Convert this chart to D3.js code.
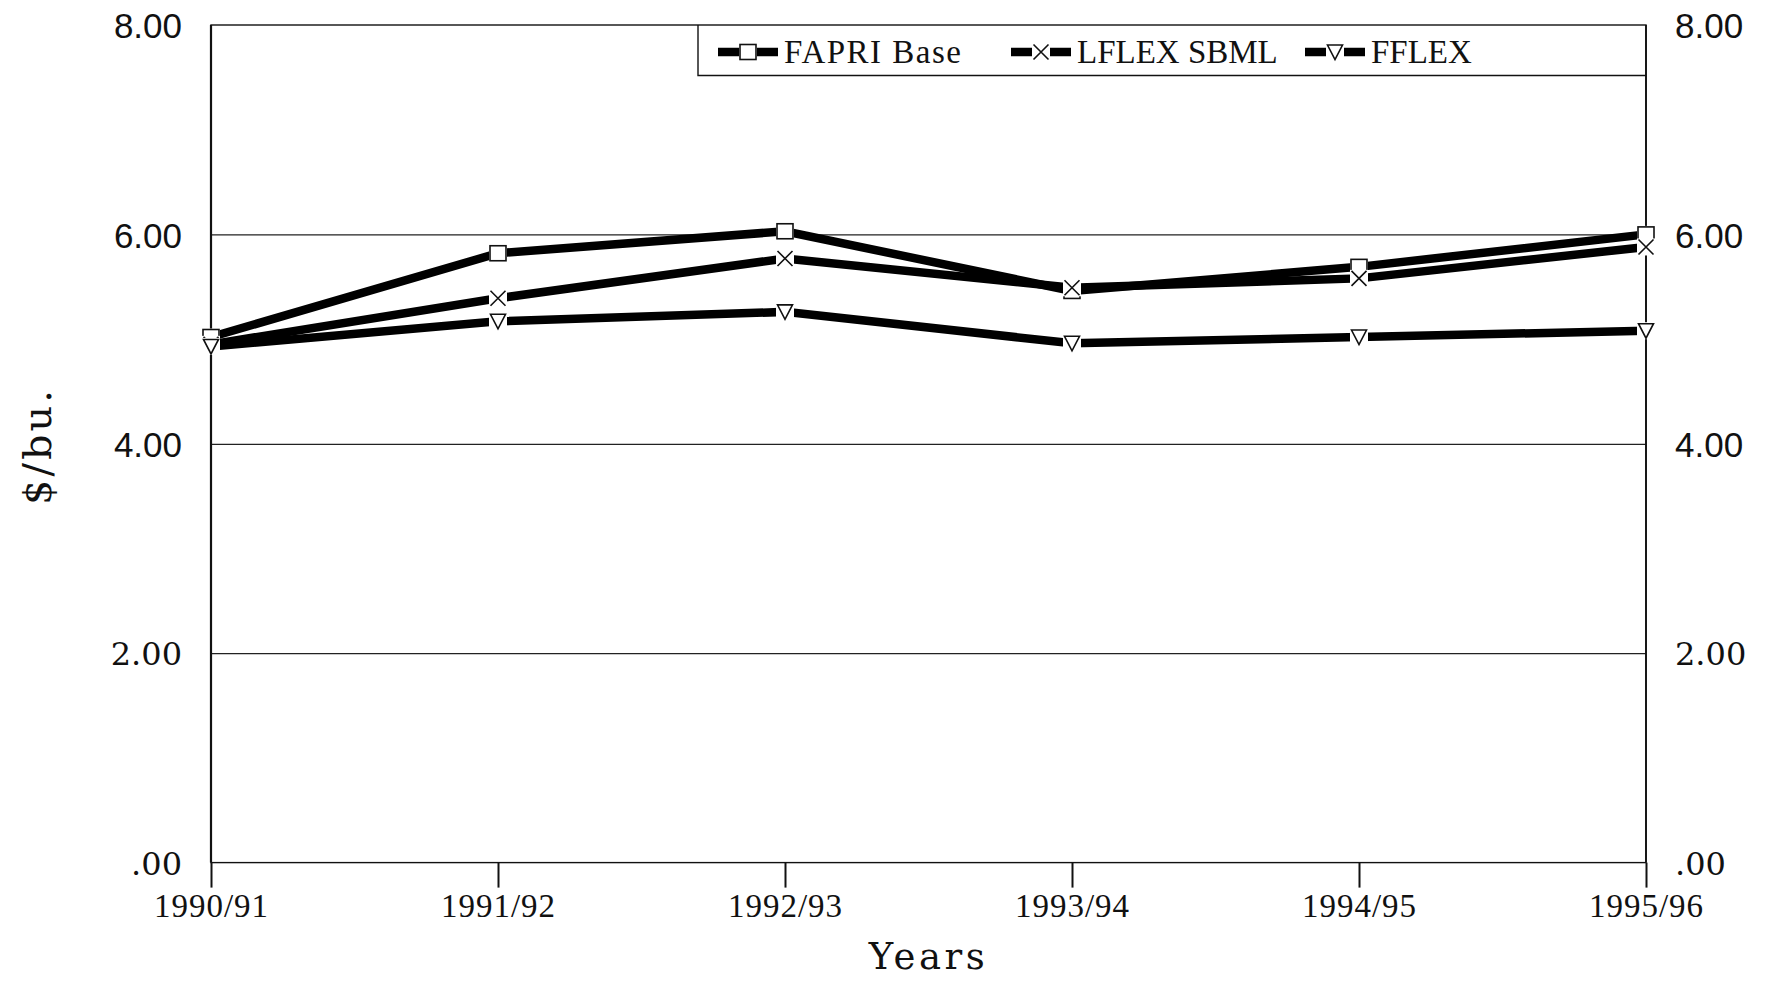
<!DOCTYPE html>
<html>
<head>
<meta charset="utf-8">
<script src="https://cdn.jsdelivr.net/npm/d3@7/dist/d3.min.js"></script>
<style>
  html, body { margin: 0; padding: 0; background: #fff; }
  svg { display: block; }
</style>
</head>
<body>
<script>
// Season-average price, $/bu., under three policy scenarios
const years = ["1990/91", "1991/92", "1992/93", "1993/94", "1994/95", "1995/96"];
const fapriBase = [5.02, 5.82, 6.03, 5.46, 5.69, 6.00];
const lflexSbml = [4.95, 5.39, 5.77, 5.49, 5.58, 5.88];
const fflex     = [4.93, 5.17, 5.26, 4.96, 5.02, 5.08];
const seriesNames = ["FAPRI Base", "LFLEX SBML", "FFLEX"];
const markerTypes = ["square", "cross", "triangle"];
const yTicks = [0, 2, 4, 6, 8];
const gridTicks = [2, 4, 6];
const yLabel = "$/bu.";
const xLabel = "Years";

const W = 1768, H = 981;
const plot = { left: 211, right: 1646, top: 25, bottom: 862.6 };

const svg = d3.select("body").append("svg")
  .attr("width", W).attr("height", H)
  .style("background", "#fff");

const x = d3.scalePoint().domain(years).range([plot.left, plot.right]).padding(0);
const y = d3.scaleLinear().domain([0, 8]).range([plot.bottom, plot.top]);

const sans = "'Liberation Sans', Arial, sans-serif";
const serif = "'Liberation Serif', 'Times New Roman', serif";
const wideSerif = "'DejaVu Serif', serif";

// horizontal grid lines
const grid = svg.append("g")
  .attr("transform", `translate(${plot.left},0)`)
  .call(d3.axisLeft(y).tickValues(gridTicks).tickSize(-(plot.right - plot.left)).tickFormat(""));
grid.select(".domain").remove();
grid.selectAll("line").attr("stroke", "#222").attr("stroke-width", 1.2);

// plot frame
svg.append("rect")
  .attr("x", plot.left).attr("y", plot.top)
  .attr("width", plot.right - plot.left).attr("height", plot.bottom - plot.top)
  .attr("fill", "none").attr("stroke", "#111").attr("stroke-width", 1.4);
svg.append("line")
  .attr("x1", plot.left).attr("x2", plot.left)
  .attr("y1", plot.top).attr("y2", plot.bottom)
  .attr("stroke", "#111").attr("stroke-width", 2.2);
svg.append("line")
  .attr("x1", plot.right).attr("x2", plot.right)
  .attr("y1", plot.top).attr("y2", plot.bottom)
  .attr("stroke", "#111").attr("stroke-width", 1.8);

// category axis with ticks below the zero line
const xAxis = svg.append("g")
  .attr("transform", `translate(0,${plot.bottom})`)
  .call(d3.axisBottom(x).tickSize(25).tickPadding(6));
xAxis.select(".domain").remove();
xAxis.selectAll(".tick line").attr("stroke", "#111").attr("stroke-width", 2);
xAxis.selectAll(".tick text")
  .attr("fill", "#111")
  .style("font-family", serif)
  .style("font-size", "33px")
  .style("letter-spacing", "1px");

// value labels on both sides
const fmt = d => d === 0 ? ".00" : d.toFixed(2);
const isSerifTick = d => d <= 2;
function styleValueAxis(g) {
  g.select(".domain").remove();
  g.selectAll(".tick line").remove();
  g.selectAll(".tick text")
    .attr("fill", "#111")
    .attr("dy", "0.36em")
    .style("font-family", d => isSerifTick(d) ? wideSerif : sans)
    .style("font-size", d => isSerifTick(d) ? "32px" : "35px");
}
svg.append("g")
  .attr("transform", `translate(${plot.left},0)`)
  .call(d3.axisLeft(y).tickValues(yTicks).tickSize(0).tickPadding(29).tickFormat(fmt))
  .call(styleValueAxis);
svg.append("g")
  .attr("transform", `translate(${plot.right},0)`)
  .call(d3.axisRight(y).tickValues(yTicks).tickSize(0).tickPadding(29).tickFormat(fmt))
  .call(styleValueAxis);

// axis titles
svg.append("text")
  .attr("x", (plot.left + plot.right) / 2 + 0).attr("y", 969)
  .attr("text-anchor", "middle")
  .attr("fill", "#111")
  .style("font-family", wideSerif)
  .style("font-size", "37px")
  .style("letter-spacing", "3.5px")
  .text(xLabel);
svg.append("text")
  .attr("transform", "translate(51,446) rotate(-90)")
  .attr("text-anchor", "middle")
  .attr("fill", "#111")
  .style("font-family", wideSerif)
  .style("font-size", "40px")
  .style("letter-spacing", "3px")
  .text(yLabel);

// marker shapes: a white knock-out box, then the symbol
function drawMarker(g, type) {
  g.append("rect").attr("x", -9).attr("y", -8.5).attr("width", 18).attr("height", 17).attr("fill", "#fff");
  if (type === "square") {
    g.append("rect").attr("x", -8).attr("y", -7.5).attr("width", 16).attr("height", 15)
      .attr("fill", "#fff").attr("stroke", "#111").attr("stroke-width", 1.6);
  } else if (type === "cross") {
    g.append("path").attr("d", "M-7.5,-7.5L7.5,7.5M7.5,-7.5L-7.5,7.5")
      .attr("fill", "none").attr("stroke", "#111").attr("stroke-width", 1.6);
  } else {
    g.append("path").attr("d", "M-7.5,-7L7.5,-7L0,7.5Z")
      .attr("fill", "#fff").attr("stroke", "#111").attr("stroke-width", 1.6);
  }
}

const allSeries = [fapriBase, lflexSbml, fflex];
const line = d3.line().x((d, i) => x(years[i])).y(d => y(d));
const lineWidth = 8.5;

allSeries.forEach(vals => {
  svg.append("path")
    .attr("d", line(vals))
    .attr("fill", "none")
    .attr("stroke", "#000")
    .attr("stroke-width", lineWidth)
    .attr("stroke-linejoin", "miter");
});
allSeries.forEach((vals, s) => {
  vals.forEach((v, i) => {
    const g = svg.append("g").attr("transform", `translate(${x(years[i])},${y(v)})`);
    drawMarker(g, markerTypes[s]);
  });
});

// legend box (shares top and right edges with the frame)
svg.append("path")
  .attr("d", `M698,${plot.top}V75.5H${plot.right}`)
  .attr("fill", "none").attr("stroke", "#111").attr("stroke-width", 1.4);

const legendX = [718, 1011, 1305];
const legendY = 52;
seriesNames.forEach((name, s) => {
  const g = svg.append("g").attr("transform", `translate(${legendX[s]},${legendY})`);
  g.append("line").attr("x1", 0).attr("x2", 60).attr("y1", 0).attr("y2", 0)
    .attr("stroke", "#000").attr("stroke-width", 8.5);
  const m = g.append("g").attr("transform", "translate(30,0)");
  drawMarker(m, markerTypes[s]);
  g.append("text")
    .attr("x", 66).attr("y", 11)
    .attr("fill", "#111")
    .style("font-family", serif)
    .style("font-size", "33px")
    .style("letter-spacing", s === 0 ? "1.5px" : "0px")
    .text(name);
});
</script>
</body>
</html>
